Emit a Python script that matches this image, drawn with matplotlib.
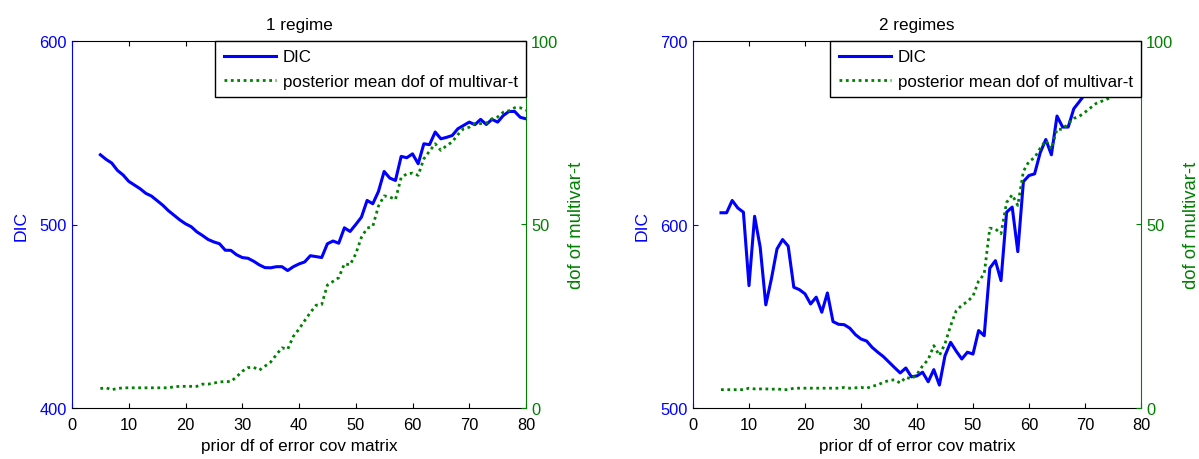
import matplotlib
matplotlib.use("Agg")
import matplotlib.pyplot as plt
import numpy as np

plt.rcParams['font.family'] = ['Liberation Sans', 'DejaVu Sans']

prior_df = list(range(5, 81))

dic_1 = [538, 535.5, 533.5, 529.5, 527, 523.5, 521.5, 519.5, 517, 515.5,
         513, 510.5, 507.5, 505, 502.5, 500.4, 498.8, 496, 494, 491.8,
         490.5, 489.5, 486, 485.9, 483.5, 482, 481.6, 480, 478, 476.5,
         476.4, 477, 477, 474.9, 477, 478.5, 479.6, 483, 482.5, 482,
         489.5, 491, 489.8, 498.2, 496.2, 500, 504, 513.1, 511.3, 518,
         528.9, 525.3, 524, 537.1, 536.4, 538.5, 533.1, 544, 543.5, 550.4,
         546.7, 547.5, 548.5, 552.2, 554, 555.8, 554.4, 557.3, 554.5, 557.3,
         555.8, 559.4, 561.6, 561.6, 558.4, 557.6]

dof_1 = [5.3, 5.5, 5.0, 5.3, 5.5, 5.5, 5.5, 5.5, 5.5, 5.5,
         5.5, 5.5, 5.5, 5.8, 5.9, 5.9, 5.9, 5.9, 6.5, 6.5,
         6.8, 7.1, 7.2, 7.2, 8.5, 10.0, 11.0, 11.1, 10.3, 11.4,
         12.5, 14.5, 16.4, 16.0, 19.5, 21.5, 23.8, 26.0, 28.0, 28.2,
         33.5, 34.5, 35.5, 39.3, 39.0, 42.0, 46.5, 49.0, 49.5, 55.0,
         57.8, 57.5, 56.8, 62.8, 63.8, 64.0, 63.4, 67.9, 70.0, 72.0,
         70.2, 71.5, 72.5, 74.5, 76.1, 76.5, 77.5, 77.5, 77.6, 78.8,
         79.3, 80.6, 81.0, 81.8, 81.8, 81.1]

dic_2 = [606.4, 606.4, 613.1, 609, 606.7, 566.7, 604.5, 587.6, 556.2, 570.4,
         586.7, 591.8, 588.2, 565.8, 564.5, 562.2, 556.7, 560.4, 552.2, 562.7,
         547.1, 545.6, 545.4, 543.5, 540, 537.6, 536.5, 533, 530.4, 528,
         525, 522, 519.1, 521.8, 517, 517.5, 519.5, 514.3, 520.9, 512.5,
         528.5, 535.8, 531, 526.7, 530.4, 529.4, 542.2, 539.4, 576.2, 580.3,
         569.4, 606.7, 609.5, 585.2, 623.4, 626.7, 627.6, 639.1, 646.3, 638.0,
         659.1, 653.1, 653.1, 663.1, 667, 671, 674, 677, 681, 684,
         687, 690, 693, 696, 699, 702]

dof_2 = [5.0, 5.0, 5.0, 5.0, 5.0, 5.4, 5.2, 5.2, 5.2, 5.1,
         5.2, 5.0, 5.0, 5.4, 5.4, 5.4, 5.4, 5.4, 5.4, 5.4,
         5.4, 5.4, 5.6, 5.4, 5.5, 5.6, 5.4, 5.9, 6.3, 7.0,
         7.5, 7.7, 6.8, 8.4, 7.9, 9.2, 11.5, 13.2, 17.0, 14.3,
         17.5, 22.4, 26.5, 28.0, 29.0, 30.5, 34.6, 36.5, 49.0, 48.8,
         47.5, 56.0, 58.1, 55.2, 64.5, 67.2, 68.2, 70.8, 72.9, 70.6,
         76.0, 75.9, 77.5, 78.9, 79.5, 80.6, 81.8, 83.0, 83.6, 84.2,
         85.0, 85.6, 86.2, 86.8, 87.4, 88.0]

titles = ["1 regime", "2 regimes"]
dic_ylims = [(400, 600), (500, 700)]
dic_ticks = [[400, 500, 600], [500, 600, 700]]
dof_ticks = [0, 50, 100]
x_ticks = list(range(0, 81, 10))

BLUE = "#0000ff"
GREEN = "#008000"
FS_TICK = 11.8
FS_LAB = 12.3
FS_LEG = 12.2

fig = plt.figure(figsize=(11.99, 4.60), dpi=100)
rects = [[72 / 1199, 51 / 460, 454 / 1199, 367 / 460],
         [693 / 1199, 51 / 460, 448 / 1199, 367 / 460]]

for i, (dic, dof) in enumerate([(dic_1, dof_1), (dic_2, dof_2)]):
    ax1 = fig.add_axes(rects[i])
    ax2 = ax1.twinx()
    l1, = ax1.plot(prior_df, dic, color=BLUE, lw=2.2, label="DIC")
    l2, = ax2.plot(prior_df, dof, color=GREEN, lw=2.0, linestyle=(0, (1, 1.3)),
                   label="posterior mean dof of multivar-t")
    ax1.set_xlim(0, 80)
    ax1.set_ylim(*dic_ylims[i])
    ax2.set_ylim(0, 100)
    ax1.set_xticks(x_ticks)
    ax1.set_yticks(dic_ticks[i])
    ax2.set_yticks(dof_ticks)
    ax1.tick_params(axis='x', direction='in', top=True, length=3.6,
                    labelsize=FS_TICK, colors='black', pad=6.5)
    ax1.tick_params(axis='y', direction='in', length=3.6, labelsize=FS_TICK,
                    colors=BLUE, pad=3.6)
    ax2.tick_params(axis='y', direction='in', length=3.6, labelsize=FS_TICK,
                    colors=GREEN, pad=3.6)
    for s in ['top', 'bottom']:
        ax1.spines[s].set_color('black')
    ax1.spines['left'].set_color(BLUE)
    ax1.spines['right'].set_visible(False)
    ax2.spines['right'].set_color(GREEN)
    for s in ['top', 'bottom', 'left']:
        ax2.spines[s].set_visible(False)
    ax1.set_title(titles[i], fontsize=FS_LAB, pad=8.5)
    ax1.set_xlabel("prior df of error cov matrix", fontsize=FS_LAB, labelpad=4.5)
    ax1.set_ylabel("DIC", fontsize=12.6, color=BLUE, labelpad=8)
    ax2.set_ylabel("dof of multivar-t", fontsize=13.3, color=GREEN, labelpad=7)
    leg = ax2.legend(handles=[l1, l2], loc='upper right', fontsize=FS_LEG,
                     fancybox=False, framealpha=1, edgecolor='black',
                     borderaxespad=0, handlelength=3.1, handletextpad=0.38,
                     labelspacing=0.55, borderpad=0.5)
    leg.get_frame().set_linewidth(1.0)

fig.savefig("out.png", dpi=100)
